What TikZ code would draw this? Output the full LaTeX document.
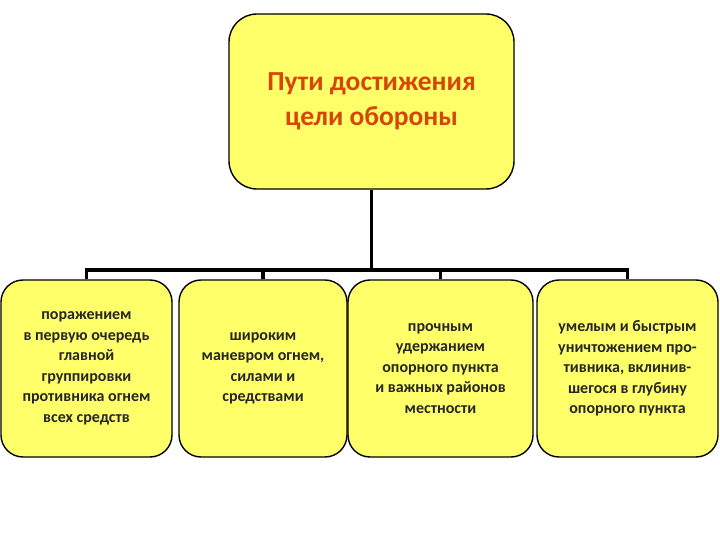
\documentclass[tikz,border=0pt]{standalone}
\usepackage{fontspec}
\setmainfont{Carlito}
\usepackage{tikz}
\definecolor{boxfill}{RGB}{255,255,105}
\definecolor{titletext}{RGB}{214,70,6}

\tikzset{
    goalbox/.style={draw=black, line width=1.4pt, fill=boxfill, rounded corners=28pt,
        minimum width=285pt, minimum height=175pt, align=center,
        font=\fontsize{27.5}{35}\selectfont\bfseries, text=titletext},
    waybox/.style={draw=black, line width=1.4pt, fill=boxfill, rounded corners=22pt,
        minimum height=177pt, align=center,
        font=\fontsize{16}{20.5}\selectfont\bfseries, text=black!85},
    conn/.style={line width=3.6pt}
}

\begin{document}
\begin{tikzpicture}[x=1pt,y=-1pt]
        \useasboundingbox (0,0) rectangle (720,540);

        \node[goalbox] (goal) at (371.5,101.5) {Пути достижения\\цели обороны};

        \node[waybox, minimum width=171pt] (way1) at (86.5,368.5)
            {поражением\\в первую очередь\\главной\\группировки\\противника огнем\\всех средств};
        \node[waybox, minimum width=168pt] (way2) at (263,368.5)
            {широким\\маневром огнем,\\силами и\\средствами};
        \node[waybox, minimum width=185pt] (way3) at (440.5,368.5)
            {прочным\\удержанием\\опорного пункта\\и важных районов\\местности};
        \node[waybox, minimum width=181pt] (way4) at (627.5,368.5)
            {умелым и быстрым\\уничтожением про-\\тивника, вклинив-\\шегося в глубину\\опорного пункта};

        \coordinate (bus) at (371.5,270);
        \draw[conn] (goal.south) -- (bus);
        \draw[conn] (way1.north) |- (bus) -| (way4.north);
        \draw[conn] (way2.north) -- (way2.north |- bus);
        \draw[conn] (way3.north) -- (way3.north |- bus);
    \end{tikzpicture}
\end{document}
